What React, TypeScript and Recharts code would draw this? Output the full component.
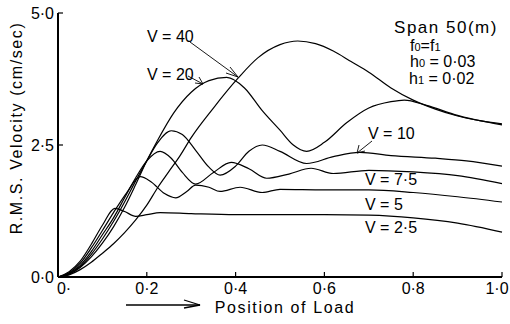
import { LineChart, Line, XAxis, YAxis } from "recharts";

// RMS velocity (cm/sec) against load position, one array per speed V
const v25 = [
  { x: 0, y: 0 }, { x: 0.025, y: 0.1 }, { x: 0.05, y: 0.3 }, { x: 0.075, y: 0.62 },
  { x: 0.1, y: 0.98 }, { x: 0.128, y: 1.3 }, { x: 0.15, y: 1.24 }, { x: 0.175, y: 1.15 },
  { x: 0.2, y: 1.18 }, { x: 0.23, y: 1.22 }, { x: 0.3, y: 1.2 }, { x: 0.4, y: 1.18 },
  { x: 0.5, y: 1.18 }, { x: 0.6, y: 1.18 }, { x: 0.7, y: 1.17 }, { x: 0.8, y: 1.12 },
  { x: 0.9, y: 1.02 }, { x: 1.0, y: 0.85 },
];
const v5 = [
  { x: 0, y: 0 }, { x: 0.025, y: 0.08 }, { x: 0.05, y: 0.26 }, { x: 0.075, y: 0.55 },
  { x: 0.1, y: 0.88 }, { x: 0.125, y: 1.22 }, { x: 0.155, y: 1.6 }, { x: 0.185, y: 1.9 },
  { x: 0.21, y: 1.8 }, { x: 0.24, y: 1.58 }, { x: 0.265, y: 1.5 }, { x: 0.29, y: 1.62 },
  { x: 0.31, y: 1.74 }, { x: 0.34, y: 1.7 }, { x: 0.365, y: 1.62 }, { x: 0.41, y: 1.7 },
  { x: 0.46, y: 1.6 }, { x: 0.5, y: 1.66 }, { x: 0.6, y: 1.65 }, { x: 0.7, y: 1.65 },
  { x: 0.8, y: 1.6 }, { x: 0.9, y: 1.52 }, { x: 1.0, y: 1.42 },
];
const v75 = [
  { x: 0, y: 0 }, { x: 0.025, y: 0.07 }, { x: 0.05, y: 0.22 }, { x: 0.075, y: 0.48 },
  { x: 0.1, y: 0.8 }, { x: 0.125, y: 1.12 }, { x: 0.15, y: 1.5 }, { x: 0.175, y: 1.88 },
  { x: 0.2, y: 2.2 }, { x: 0.23, y: 2.38 }, { x: 0.255, y: 2.25 }, { x: 0.28, y: 1.98 },
  { x: 0.31, y: 1.76 }, { x: 0.35, y: 1.98 }, { x: 0.39, y: 2.17 }, { x: 0.43, y: 2.05 },
  { x: 0.47, y: 1.87 }, { x: 0.52, y: 1.95 }, { x: 0.57, y: 2.06 }, { x: 0.62, y: 1.96 },
  { x: 0.7, y: 2.02 }, { x: 0.8, y: 1.99 }, { x: 0.9, y: 1.92 }, { x: 1.0, y: 1.77 },
];
const v10 = [
  { x: 0, y: 0 }, { x: 0.025, y: 0.06 }, { x: 0.05, y: 0.2 }, { x: 0.075, y: 0.43 },
  { x: 0.1, y: 0.72 }, { x: 0.125, y: 1.05 }, { x: 0.15, y: 1.42 }, { x: 0.175, y: 1.82 },
  { x: 0.2, y: 2.2 }, { x: 0.225, y: 2.55 }, { x: 0.255, y: 2.77 }, { x: 0.28, y: 2.7 },
  { x: 0.31, y: 2.4 }, { x: 0.34, y: 2.08 }, { x: 0.365, y: 1.93 }, { x: 0.4, y: 2.1 },
  { x: 0.43, y: 2.38 }, { x: 0.46, y: 2.5 }, { x: 0.5, y: 2.38 }, { x: 0.56, y: 2.15 },
  { x: 0.62, y: 2.28 }, { x: 0.68, y: 2.36 }, { x: 0.75, y: 2.3 }, { x: 0.85, y: 2.25 },
  { x: 0.92, y: 2.2 }, { x: 1.0, y: 2.1 },
];
const v20 = [
  { x: 0, y: 0 }, { x: 0.025, y: 0.05 }, { x: 0.05, y: 0.18 }, { x: 0.075, y: 0.38 },
  { x: 0.1, y: 0.64 }, { x: 0.125, y: 0.95 }, { x: 0.15, y: 1.32 }, { x: 0.175, y: 1.75 },
  { x: 0.2, y: 2.2 }, { x: 0.225, y: 2.6 }, { x: 0.26, y: 3.1 }, { x: 0.3, y: 3.5 },
  { x: 0.34, y: 3.72 }, { x: 0.38, y: 3.78 }, { x: 0.42, y: 3.58 }, { x: 0.46, y: 3.15 },
  { x: 0.5, y: 2.78 }, { x: 0.53, y: 2.5 }, { x: 0.56, y: 2.38 }, { x: 0.6, y: 2.55 },
  { x: 0.65, y: 2.92 }, { x: 0.7, y: 3.2 }, { x: 0.75, y: 3.32 }, { x: 0.78, y: 3.35 },
  { x: 0.83, y: 3.25 }, { x: 0.9, y: 3.06 }, { x: 0.95, y: 2.96 }, { x: 1.0, y: 2.9 },
];
const v40 = [
  { x: 0, y: 0 }, { x: 0.025, y: 0.04 }, { x: 0.05, y: 0.14 }, { x: 0.075, y: 0.28 },
  { x: 0.1, y: 0.45 }, { x: 0.125, y: 0.63 }, { x: 0.15, y: 0.84 }, { x: 0.175, y: 1.08 },
  { x: 0.2, y: 1.36 }, { x: 0.225, y: 1.7 }, { x: 0.25, y: 2.0 }, { x: 0.275, y: 2.3 },
  { x: 0.3, y: 2.64 }, { x: 0.35, y: 3.2 }, { x: 0.405, y: 3.76 }, { x: 0.45, y: 4.15 },
  { x: 0.5, y: 4.4 }, { x: 0.54, y: 4.47 }, { x: 0.58, y: 4.42 }, { x: 0.62, y: 4.28 },
  { x: 0.66, y: 4.08 }, { x: 0.7, y: 3.88 }, { x: 0.75, y: 3.58 }, { x: 0.8, y: 3.35 },
  { x: 0.85, y: 3.18 }, { x: 0.9, y: 3.05 }, { x: 0.95, y: 2.96 }, { x: 1.0, y: 2.88 },
];

const series = [v25, v5, v75, v10, v20, v40];
const xTicks = [0, 0.2, 0.4, 0.6, 0.8, 1.0];
const xTickLabels = ["0·", "0·2", "0·4", "0·6", "0·8", "1·0"];
const yTicks = [0, 2.5, 5];
const yTickLabels = ["0·0", "2·5", "5·0"];

const FONT = "'Liberation Sans', Arial, sans-serif";

// tickSize/tickMargin are 0, so x/y here sit right on the axis line
const XTick = ({ x, y, payload, index }: any) => {
  const last = index === xTicks.length - 1;
  return (
    <g>
      {index > 0 && <line x1={x} y1={y} x2={x} y2={y - 5} stroke="#000" strokeWidth={1.2} />}
      <text
        x={index === 0 ? x + 6 : last ? x - 5 : x}
        y={y + 17}
        textAnchor="middle"
        fontSize={16}
        fontFamily={FONT}
        fill="#000"
      >
        {xTickLabels[xTicks.indexOf(payload.value)]}
      </text>
    </g>
  );
};

const YTick = ({ x, y, payload }: any) => (
  <g>
    <line x1={x} y1={y} x2={x + 5} y2={y} stroke="#000" strokeWidth={1.2} />
    <text x={x - 4} y={y + 6} textAnchor="end" fontSize={16} fontFamily={FONT} fill="#000">
      {yTickLabels[yTicks.indexOf(payload.value)]}
    </text>
  </g>
);

const txt = { fontFamily: FONT, fontSize: 16, fill: "#000" } as const;

export default function App() {
  return (
    <div style={{ position: "fixed", left: 0, top: 0, width: 510, height: 324, background: "#fff" }}>
      <LineChart width={510} height={324} margin={{ top: 13, right: 8, bottom: 0, left: 0 }}>
        <XAxis
          dataKey="x"
          type="number"
          domain={[0, 1]}
          ticks={xTicks}
          tick={<XTick />}
          tickLine={false}
          tickSize={0}
          tickMargin={0}
          height={47}
          axisLine={{ stroke: "#000", strokeWidth: 2 }}
          allowDuplicatedCategory={false}
        />
        <YAxis
          type="number"
          domain={[0, 5]}
          ticks={yTicks}
          tick={<YTick />}
          tickLine={false}
          tickSize={0}
          tickMargin={0}
          width={58}
          axisLine={{ stroke: "#000", strokeWidth: 2 }}
        />
        {series.map((d, i) => (
          <Line
            key={i}
            data={d}
            dataKey="y"
            type="monotone"
            stroke="#000"
            strokeWidth={1.2}
            dot={false}
            isAnimationActive={false}
          />
        ))}
      </LineChart>
      <svg width={510} height={324} style={{ position: "absolute", left: 0, top: 0, pointerEvents: "none" }}>
        <text x={22} y={128} transform="rotate(-90 22 128)" textAnchor="middle" {...txt} letterSpacing={1.6}>
          R.M.S. Velocity (cm/sec)
        </text>
        <text x={285} y={313} textAnchor="middle" {...txt} letterSpacing={1.6}>Position of Load</text>
        <line x1={126} y1={305} x2={200} y2={305} stroke="#000" strokeWidth={1.5} />
        <polyline points="184,300 200,305 184,308" fill="none" stroke="#000" strokeWidth={1.3} />

        <text x={446} y={33} textAnchor="middle" {...txt} fontSize={17} letterSpacing={1.5}>Span 50(m)</text>
        <text x={410} y={51} {...txt}>f<tspan fontSize={11}>0</tspan>=f<tspan fontSize={11}>1</tspan></text>
        <text x={410} y={67} {...txt}>h<tspan fontSize={11}>0</tspan> = 0·03</text>
        <text x={409} y={84} {...txt}>h<tspan fontSize={11}>1</tspan>  = 0·02</text>

        <text x={147} y={42} {...txt}>V = 40</text>
        <line x1={190} y1={42} x2={238} y2={77} stroke="#000" strokeWidth={0.9} />
        <polyline points="230,67 238,77 226,73" fill="none" stroke="#000" strokeWidth={0.9} />
        <text x={147} y={80} {...txt}>V = 20</text>
        <line x1={188} y1={76} x2={203} y2={84} stroke="#000" strokeWidth={0.9} />
        <polyline points="195,83 203,84 199,77" fill="none" stroke="#000" strokeWidth={0.9} />
        <text x={368} y={139} {...txt}>V = 10</text>
        <line x1={372} y1={141} x2={357} y2={153} stroke="#000" strokeWidth={0.9} />
        <polyline points="359,145 357,153 365,151" fill="none" stroke="#000" strokeWidth={0.9} />
        <text x={365} y={185} {...txt}>V = 7·5</text>
        <text x={365} y={210} {...txt}>V = 5</text>
        <text x={365} y={233} {...txt}>V = 2·5</text>
      </svg>
    </div>
  );
}
